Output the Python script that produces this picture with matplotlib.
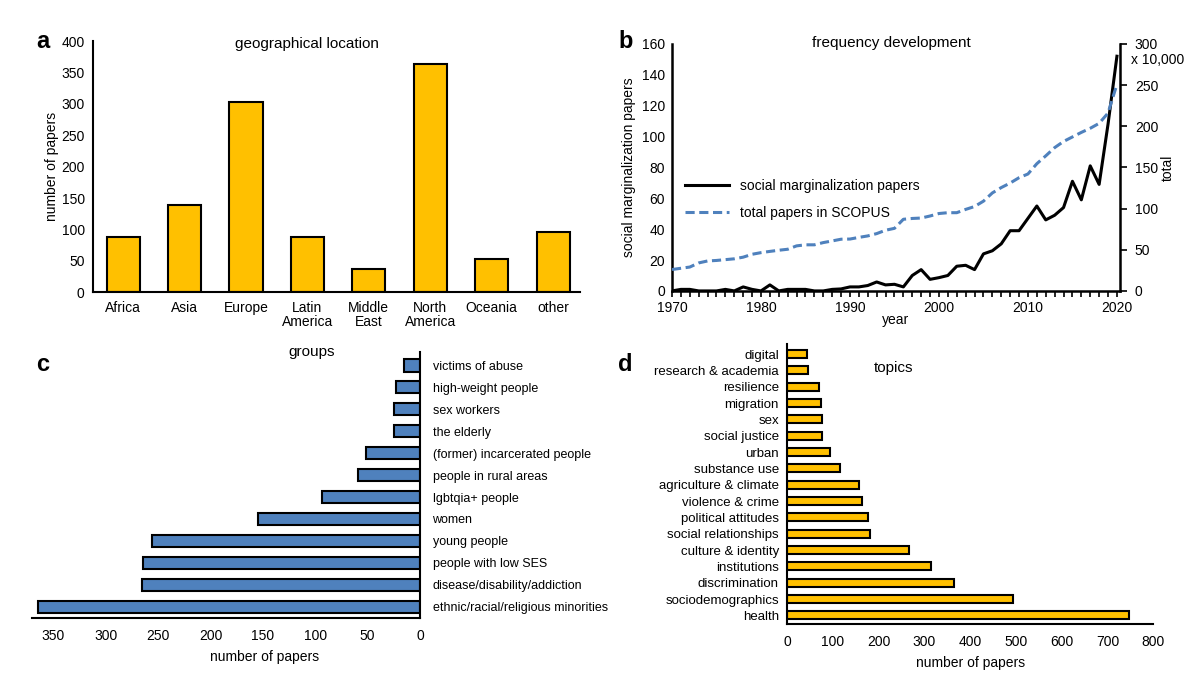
import matplotlib
matplotlib.use("Agg")
import matplotlib.pyplot as plt
import numpy as np

plt.rcParams['font.family'] = ['Liberation Sans', 'DejaVu Sans']
plt.rcParams['font.size'] = 10

GOLD = '#FFC000'
BLUE = '#4F81BD'

# a: geographical location
regions = ['Africa', 'Asia', 'Europe', 'Latin\nAmerica', 'Middle\nEast',
           'North\nAmerica', 'Oceania', 'other']
region_counts = [88, 139, 303, 88, 37, 364, 53, 96]

# b: frequency development
years = list(range(1970, 2021))
sm_papers = [0, 1, 1, 0, 0, 0, 1, 0, 2.6, 1, 0, 3.9, 0, 1, 1, 1, 0, 0, 1, 1.3,
             2.6, 2.6, 3.5, 5.8, 3.9, 4.3, 2.6, 10, 13.8, 7.5, 8.6, 10, 16, 16.6,
             13.8, 24, 26, 30.5, 39, 39, 47, 55, 46, 49, 54, 71, 59, 81, 69,
             108, 152]
total_papers = [26, 27.5, 29, 34, 36.4, 37, 38, 39, 41, 44.5, 46.5, 48, 49.4,
                50.6, 54.7, 56, 56, 58.7, 60.7, 62.8, 63, 65, 66.8, 69.6, 73.7,
                76, 87, 88, 88.5, 91, 94, 95, 95, 99, 102.5, 109, 119, 125.5,
                131, 137.5, 142, 154.5, 164, 174, 181.5, 187, 192.5, 197.5,
                203.5, 216, 251]

# c: groups
groups = ['victims of abuse', 'high-weight people', 'sex workers', 'the elderly',
          '(former) incarcerated people', 'people in rural areas',
          'lgbtqia+ people', 'women', 'young people', 'people with low SES',
          'disease/disability/addiction', 'ethnic/racial/religious minorities']
group_counts = [15, 23, 25, 25, 52, 59, 94, 155, 256, 264, 265, 365]

# d: topics
topics = ['digital', 'research & academia', 'resilience', 'migration', 'sex',
          'social justice', 'urban', 'substance use', 'agriculture & climate',
          'violence & crime', 'political attitudes', 'social relationships',
          'culture & identity', 'institutions', 'discrimination',
          'sociodemographics', 'health']
topic_counts = [44, 46, 70, 73, 75, 75, 93, 116, 157, 163, 177, 182, 267, 315,
                364, 493, 748]

fig = plt.figure(figsize=(12, 6.75), dpi=100)

# ---- panel a
ax_a = fig.add_axes([0.0775, 0.567, 0.406, 0.372])
xa = np.arange(len(regions))
ax_a.bar(xa, region_counts, width=0.54, color=GOLD, edgecolor='black', linewidth=1.5)
ax_a.set_xticks(xa)
ax_a.set_xticklabels(regions, linespacing=1.0)
ax_a.set_xlim(-0.49, 7.44)
ax_a.set_ylim(0, 400)
ax_a.set_yticks(range(0, 401, 50))
ax_a.set_ylabel('number of papers', labelpad=2)
ax_a.tick_params(length=0, pad=6)
for s in ['top', 'right']:
    ax_a.spines[s].set_visible(False)
for s in ['left', 'bottom']:
    ax_a.spines[s].set_linewidth(1.5)
ax_a.text(0.44, 0.99, 'geographical location', transform=ax_a.transAxes,
          fontsize=11, ha='center', va='center')
fig.text(0.03, 0.938, 'a', fontsize=17, fontweight='bold', va='center')

# ---- panel b
ax_b = fig.add_axes([0.56, 0.569, 0.373, 0.366])
ax_b.plot(years, sm_papers, color='black', linewidth=2.2,
          label='social marginalization papers')
ax_b.set_xlim(1970, 2020.3)
ax_b.set_ylim(0, 160)
ax_b.set_yticks(range(0, 161, 20))
ax_b.set_xticks(range(1970, 2021, 10))
ax_b.set_xticks(years, minor=True)
ax_b.tick_params(axis='y', length=0, pad=5)
ax_b.tick_params(axis='x', which='both', direction='out', length=4, width=1.2, pad=3)
ax_b.set_ylabel('social marginalization papers', labelpad=4)
ax_b.set_xlabel('year', labelpad=-1)
for s in ['top', 'right']:
    ax_b.spines[s].set_visible(False)
for s in ['left', 'bottom']:
    ax_b.spines[s].set_linewidth(1.8)

ax_b2 = ax_b.twinx()
ax_b2.plot(years, total_papers, color=BLUE, linewidth=2.2, linestyle=(0, (3, 1.5)),
           label='total papers in SCOPUS')
ax_b2.set_ylim(0, 300)
ax_b2.set_yticks(range(0, 301, 50))
ax_b2.tick_params(axis='y', direction='out', length=5, width=1.2, pad=6)
ax_b2.set_ylabel('total', labelpad=2)
for s in ['top', 'left', 'bottom']:
    ax_b2.spines[s].set_visible(False)
ax_b2.spines['right'].set_linewidth(1.8)
ax_b2.text(1.025, 0.935, 'x 10,000', transform=ax_b2.transAxes, fontsize=10, va='center')
ax_b.text(0.49, 1.005, 'frequency development', transform=ax_b.transAxes,
          fontsize=11, ha='center', va='center')

h1, l1 = ax_b.get_legend_handles_labels()
h2, l2 = ax_b2.get_legend_handles_labels()
ax_b.legend(h1 + h2, l1 + l2, loc='center left', bbox_to_anchor=(0.0, 0.37),
            frameon=False, fontsize=10, handlelength=3.2, labelspacing=0.9)
fig.text(0.515, 0.938, 'b', fontsize=17, fontweight='bold', va='center')

# ---- panel c
ax_c = fig.add_axes([0.027, 0.085, 0.323, 0.393])
yc = np.arange(len(groups))[::-1]
ax_c.barh(yc, group_counts, height=0.55, color=BLUE, edgecolor='black', linewidth=1.5)
ax_c.set_xlim(370, 0)
ax_c.set_ylim(-0.5, len(groups) - 0.4)
ax_c.set_xticks(range(0, 351, 50))
ax_c.yaxis.tick_right()
ax_c.set_yticks(yc)
ax_c.set_yticklabels(groups, fontsize=9)
ax_c.tick_params(axis='y', length=0, pad=9)
ax_c.tick_params(axis='x', length=0, pad=8)
ax_c.set_xlabel('number of papers', labelpad=5, x=0.6)
for s in ['top', 'left']:
    ax_c.spines[s].set_visible(False)
for s in ['right', 'bottom']:
    ax_c.spines[s].set_linewidth(1.5)
ax_c.text(0.72, 1.0, 'groups', transform=ax_c.transAxes, fontsize=11,
          ha='center', va='center')
fig.text(0.03, 0.46, 'c', fontsize=17, fontweight='bold', va='center')

# ---- panel d
ax_d = fig.add_axes([0.656, 0.075, 0.305, 0.415])
yd = np.arange(len(topics))[::-1]
ax_d.barh(yd, topic_counts, height=0.5, color=GOLD, edgecolor='black', linewidth=1.5)
ax_d.set_xlim(0, 800)
ax_d.set_ylim(-0.55, len(topics) - 0.4)
ax_d.set_xticks(range(0, 801, 100))
ax_d.set_yticks(yd)
ax_d.set_yticklabels(topics, fontsize=9.5)
ax_d.tick_params(axis='y', length=0, pad=6)
ax_d.tick_params(axis='x', length=0, pad=8)
ax_d.set_xlabel('number of papers', labelpad=5)
for s in ['top', 'right']:
    ax_d.spines[s].set_visible(False)
for s in ['left', 'bottom']:
    ax_d.spines[s].set_linewidth(1.5)
ax_d.text(0.29, 0.915, 'topics', transform=ax_d.transAxes, fontsize=11,
          ha='center', va='center')
fig.text(0.515, 0.46, 'd', fontsize=17, fontweight='bold', va='center')

fig.savefig('out.png', dpi=100)
